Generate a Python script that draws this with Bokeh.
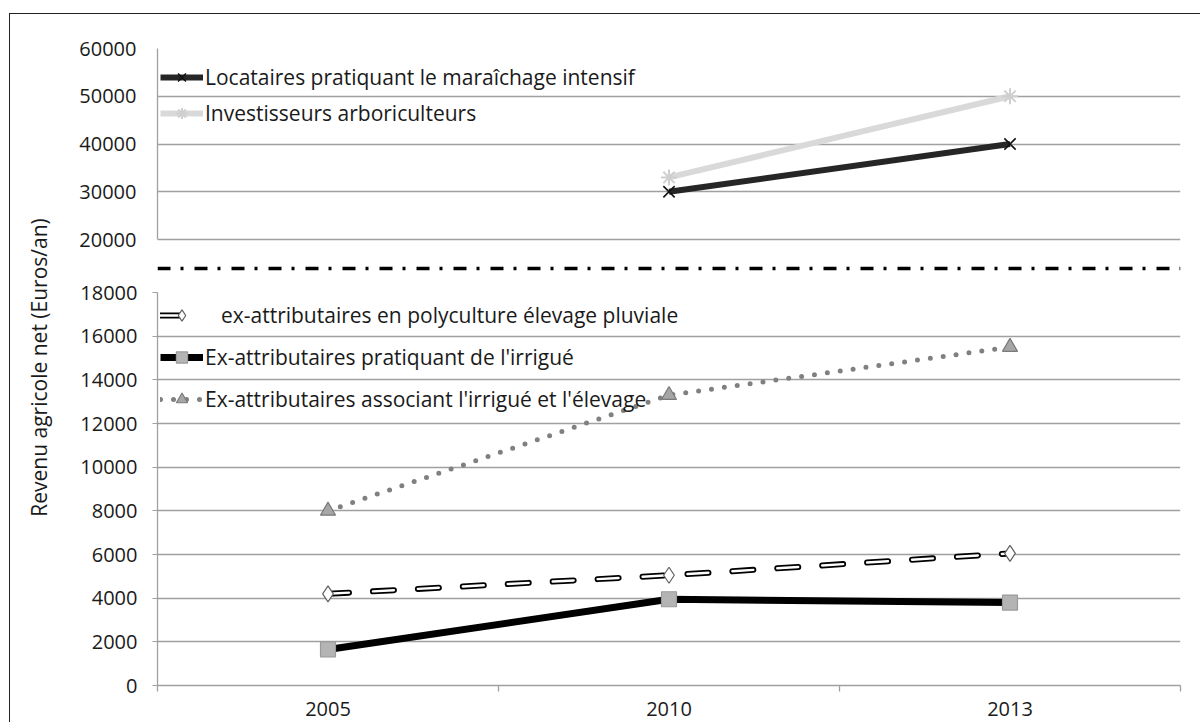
import math
from bokeh.plotting import figure
from bokeh.models import (FactorRange, Range1d, LinearAxis, FixedTicker,
                          Legend, LegendItem, Span, Label, Spacer)
from bokeh.layouts import row, column
from bokeh.embed import file_html
from bokeh.resources import INLINE

nan = float("nan")

# ---------------- data ----------------
years = ["2005", "2010", "2013"]

# upper panel (Euros/an)
locataires = [nan, 30000, 40000]
investisseurs = [nan, 33000, 50000]

# lower panel (Euros/an)
polyculture = [4200, 5050, 6050]
irrigue = [1650, 3950, 3800]
irrigue_elevage = [8000, 13300, 15500]

upper_ticks = [20000, 30000, 40000, 50000, 60000]
lower_ticks = list(range(0, 18001, 2000))

labels_upper = ["Locataires pratiquant le maraîchage intensif",
                "Investisseurs arboriculteurs"]
labels_lower = ["\u2002 ex-attributaires en polyculture élevage pluviale",
                "Ex-attributaires pratiquant de l'irrigué",
                "Ex-attributaires associant l'irrigué et l'élevage"]
y_title = "Revenu agricole net (Euros/an)"

# ---------------- style ----------------
FONT = "Open Sans"
TXT = "#1a1a1a"
GRID = "#a0a0a0"
FS = "20px"
LFS = "21px"

# layout geometry (px)
PAD_TOP, PAD_LEFT = 13, 9
TITLE_W = 60
COL_W = 1130
TOP_H = 266
BOT_H = 442
LEFT_B = 87
RIGHT_B = 20

xr = FactorRange(*years)

# ---------------- upper panel ----------------
top = figure(width=COL_W, height=TOP_H, x_range=xr, y_range=Range1d(11414, 60000),
             output_backend="svg", toolbar_location=None, x_axis_location=None,
             min_border_left=LEFT_B, min_border_right=RIGHT_B, min_border_top=34,
             min_border_bottom=0)
top.outline_line_color = None
top.xgrid.visible = False
top.ygrid.grid_line_color = GRID
top.ygrid.grid_line_width = 1.3
top.ygrid.bounds = (upper_ticks[0], upper_ticks[-1])
top.yaxis.ticker = FixedTicker(ticks=upper_ticks)
top.yaxis.bounds = (upper_ticks[0], upper_ticks[-1])
top.yaxis.axis_line_color = GRID
top.yaxis.axis_line_width = 1.3
top.yaxis.major_tick_out = 0
top.yaxis.major_tick_in = 0
top.yaxis.minor_tick_line_color = None
top.yaxis.major_label_standoff = 21
top.yaxis.major_label_text_font = FONT
top.yaxis.major_label_text_font_size = FS
top.yaxis.major_label_text_color = TXT

l1 = top.line(years, locataires, line_color="#262626", line_width=6)
m1 = top.scatter(years, locataires, marker="x", size=16, line_color="#111111", line_width=1.6)
l2 = top.line(years, investisseurs, line_color="#d9d9d9", line_width=6)
m2 = top.scatter(years, investisseurs, marker="asterisk", size=16, line_color="#cfcfcf", line_width=2)

top.add_layout(Span(location=13927, dimension="width", line_color="#000000",
                    line_width=3.5, line_dash="13 10 3 11"))

leg_top = Legend(items=[LegendItem(label=labels_upper[0], renderers=[l1, m1]),
                        LegendItem(label=labels_upper[1], renderers=[l2, m2])],
                 location=(3, 153), margin=0, padding=0, spacing=8,
                 glyph_width=43, glyph_height=28, label_height=28, label_standoff=2,
                 border_line_color=None, background_fill_alpha=0,
                 label_text_font=FONT, label_text_font_size=LFS, label_text_color=TXT)
top.add_layout(leg_top)

# ---------------- lower panel ----------------
bot = figure(width=COL_W, height=BOT_H, x_range=xr, y_range=Range1d(0, 18000),
             output_backend="svg", toolbar_location=None, x_axis_location=None,
             min_border_left=LEFT_B, min_border_right=RIGHT_B, min_border_top=12,
             min_border_bottom=37)
bot.outline_line_color = None
bot.xgrid.visible = False
bot.ygrid.grid_line_color = GRID
bot.ygrid.grid_line_width = 1.3
bot.yaxis.ticker = FixedTicker(ticks=lower_ticks)
bot.yaxis.axis_line_color = GRID
bot.yaxis.axis_line_width = 1.3
bot.yaxis.major_tick_line_color = GRID
bot.yaxis.major_tick_out = 5
bot.yaxis.major_tick_in = 0
bot.yaxis.minor_tick_line_color = None
bot.yaxis.major_label_standoff = 15
bot.yaxis.major_label_text_font = FONT
bot.yaxis.major_label_text_font_size = FS
bot.yaxis.major_label_text_color = TXT

# x axis on the category range's synthetic coordinates:
# labels at the band centres, minor ticks at the band boundaries (Excel style)
centres = [i + 0.5 for i in range(len(years))]
bounds = list(range(len(years) + 1))
x_axis = LinearAxis(ticker=FixedTicker(ticks=centres, minor_ticks=bounds),
                    major_label_overrides={c: y for c, y in zip(centres, years)},
                    major_tick_out=0, major_tick_in=0, major_tick_line_color=None,
                    minor_tick_out=6, minor_tick_in=0, minor_tick_line_color=GRID,
                    minor_tick_line_width=1.3,
                    axis_line_color=GRID, axis_line_width=1.3,
                    major_label_standoff=10, major_label_text_font=FONT,
                    major_label_text_font_size=FS, major_label_text_color=TXT)
bot.add_layout(x_axis, "below")

p1o = bot.line(years, polyculture, line_color="#000000", line_width=6, line_dash="21 24", line_cap="round")
p1i = bot.line(years, polyculture, line_color="#ffffff", line_width=2.4, line_dash="21 24", line_cap="round")
p1m = bot.scatter(years, polyculture, marker="diamond", size=16, fill_color="#ffffff",
                  line_color="#606060", line_width=1.2)

p2l = bot.line(years, irrigue, line_color="#000000", line_width=7)
p2m = bot.scatter(years, irrigue, marker="square", size=15, fill_color="#b4b4b4",
                  line_color="#9a9a9a", line_width=1.2)

p3l = bot.line(years, irrigue_elevage, line_color="#808080", line_width=5, line_dash="0 13", line_cap="round")
p3m = bot.scatter(years, irrigue_elevage, marker="triangle", size=15, fill_color="#a6a6a6",
                  line_color="#7a7a7a", line_width=1.2)

leg_bot = Legend(items=[LegendItem(label=labels_lower[0], renderers=[p1o, p1i, p1m]),
                        LegendItem(label=labels_lower[1], renderers=[p2l, p2m]),
                        LegendItem(label=labels_lower[2], renderers=[p3l, p3m])],
                 location=(3, 272), margin=0, padding=0, spacing=14,
                 glyph_width=43, glyph_height=28, label_height=28, label_standoff=2,
                 border_line_color=None, background_fill_alpha=0,
                 label_text_font=FONT, label_text_font_size=LFS, label_text_color=TXT)
bot.add_layout(leg_bot)

# ---------------- y-axis title ----------------
TOT_H = TOP_H + BOT_H
tfig = figure(width=TITLE_W, height=TOT_H, x_range=Range1d(0, 1), y_range=Range1d(0, 1),
              output_backend="svg", toolbar_location=None, min_border=0,
              x_axis_location=None, y_axis_location=None)
tfig.outline_line_color = None
tfig.grid.visible = False
tfig.add_layout(Label(x=(38 - PAD_LEFT - 1) / TITLE_W, y=(PAD_TOP + 1 + TOT_H - 367) / TOT_H,
                      text=y_title, angle=math.pi / 2,
                      text_align="center", text_baseline="middle", text_font=FONT,
                      text_font_size="21px", text_color=TXT))

boxed = row(tfig, column(top, bot, spacing=0), spacing=0,
            styles={"border-top": "1px solid #222222", "border-left": "1px solid #222222"})
layout = column(Spacer(height=PAD_TOP, width=1),
                row(Spacer(width=PAD_LEFT, height=1), boxed, spacing=0),
                spacing=0)

open("out.html", "w").write(file_html(layout, INLINE))
